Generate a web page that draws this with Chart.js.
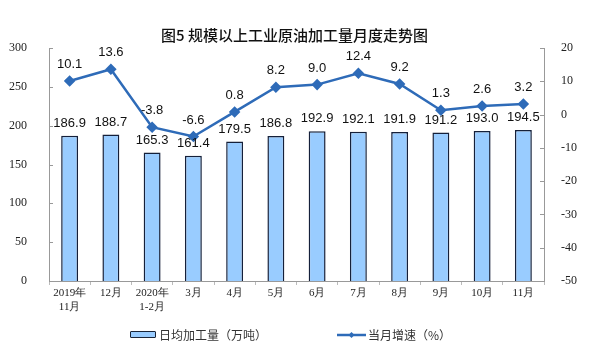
<!DOCTYPE html>
<html><head><meta charset="utf-8">
<script src="https://cdn.jsdelivr.net/npm/chart.js@4"></script>
<style>
html,body{margin:0;padding:0;background:#fff;}
#wrap{position:relative;width:589px;height:356px;}
#legend{position:absolute;left:0;top:326px;width:589px;height:20px;font-family:"Noto Sans CJK SC",sans-serif;font-size:12px;color:#333;}
.li{position:absolute;top:0;display:flex;align-items:center;white-space:nowrap;}
</style>
</head><body>
<div id="wrap"><canvas id="c" width="589" height="356"></canvas>
<div id="legend">
 <div class="li" style="left:130px"><span style="display:inline-block;width:24px;height:5px;background:#99CCFF;border:1.5px solid #1A2438;border-radius:1px;margin-right:3px"></span><span id="l1"></span></div>
 <div class="li" style="left:337px"><svg width="29" height="10" style="margin-right:2px"><line x1="0" y1="5" x2="29" y2="5" stroke="#2E6BB8" stroke-width="2.5"/><polygon points="14.5,2 17.5,5 14.5,8 11.5,5" fill="#2E6BB8"/></svg><span id="l2"></span></div>
</div></div>
<script>
const categories = [["2019年","11月"],"12月",["2020年","1-2月"],"3月","4月","5月","6月","7月","8月","9月","10月","11月"];
const dailyOutput = [186.9,188.7,165.3,161.4,179.5,186.8,192.9,192.1,191.9,191.2,193.0,194.5];
const monthlyGrowth = [10.1,13.6,-3.8,-6.6,0.8,8.2,9.0,12.4,9.2,1.3,2.6,3.2];
const leftTicks = [0,50,100,150,200,250,300];
const rightTicks = [-50,-40,-30,-20,-10,0,10,20];
const seriesNames = ["日均加工量（万吨）","当月增速（%）"];
const titleText = "图5 规模以上工业原油加工量月度走势图";

document.getElementById('l1').textContent = seriesNames[0];
document.getElementById('l2').textContent = seriesNames[1];

const valueLabels = {
  id:'valueLabels',
  afterDatasetsDraw(chart){
    const ctx = chart.ctx;
    ctx.save();
    ctx.font = '13px "Liberation Sans", Arial, sans-serif';
    ctx.fillStyle = '#111';
    ctx.textAlign = 'center';
    ctx.textBaseline = 'bottom';
    chart.data.datasets.forEach((ds,i)=>{
      const meta = chart.getDatasetMeta(i);
      meta.data.forEach((el,j)=>{
        const v = ds.data[j];
        const off = ds.type==='line' ? 10 : 6;
        ctx.fillText(v.toFixed(1), el.x, el.y - off);
      });
    });
    ctx.restore();
  }
};

// small inward tick marks on the two value axes
const innerTicks = {
  id:'innerTicks',
  afterDraw(chart){
    const ctx = chart.ctx;
    ctx.save();
    ctx.strokeStyle = '#999';
    ctx.lineWidth = 1;
    const y = chart.scales.y, y1 = chart.scales.y1;
    leftTicks.forEach(v=>{
      const p = Math.round(y.getPixelForValue(v))+0.5;
      ctx.beginPath(); ctx.moveTo(y.right, p); ctx.lineTo(y.right+4, p); ctx.stroke();
    });
    rightTicks.forEach(v=>{
      const p = Math.round(y1.getPixelForValue(v))+0.5;
      ctx.beginPath(); ctx.moveTo(y1.left, p); ctx.lineTo(y1.left-4, p); ctx.stroke();
    });
    ctx.restore();
  }
};

new Chart(document.getElementById('c'), {
  data:{
    labels:categories,
    datasets:[
      {type:'line',label:seriesNames[1],data:monthlyGrowth,yAxisID:'y1',borderColor:'#2E6BB8',backgroundColor:'#2E6BB8',borderWidth:2.5,pointStyle:'rectRot',pointRadius:4,pointHoverRadius:4,tension:0,order:0},
      {type:'bar',label:seriesNames[0],data:dailyOutput,yAxisID:'y',backgroundColor:'#99CCFF',borderColor:'#15203A',borderWidth:1.5,barPercentage:0.41,categoryPercentage:1,order:1}
    ]
  },
  options:{
    responsive:false,animation:false,
    layout:{padding:{left:0,right:0,top:0,bottom:40}},
    plugins:{
      legend:{display:false},
      tooltip:{enabled:false},
      title:{display:true,text:titleText,color:'#111',font:{family:'"Noto Sans CJK SC", sans-serif',size:15,weight:'500',lineHeight:1.2},padding:{top:26,bottom:4}}
    },
    scales:{
      x:{
        offset:true,
        grid:{display:true,drawOnChartArea:false,offset:true,tickLength:4,color:'#bbb'},
        border:{color:'#999'},
        ticks:{color:'#222',font:{family:'"Liberation Serif","Times New Roman",serif',size:11},maxRotation:0,autoSkip:false,padding:2},
        afterFit(s){s.height=35;}
      },
      y:{
        position:'left',min:0,max:300,
        afterBuildTicks(s){s.ticks=leftTicks.map(v=>({value:v}));},
        grid:{display:false},
        border:{display:true,color:'#999'},
        ticks:{color:'#222',font:{family:'"Liberation Serif","Times New Roman",serif',size:12},padding:14},
        afterFit(s){s.width=49;}
      },
      y1:{
        position:'right',min:-50,max:20,
        afterBuildTicks(s){s.ticks=rightTicks.map(v=>({value:v}));},
        grid:{display:false},
        border:{display:true,color:'#999'},
        ticks:{color:'#222',font:{family:'"Liberation Serif","Times New Roman",serif',size:12},padding:9},
        afterFit(s){s.width=45;}
      }
    }
  },
  plugins:[valueLabels, innerTicks]
});
</script>
</body></html>
